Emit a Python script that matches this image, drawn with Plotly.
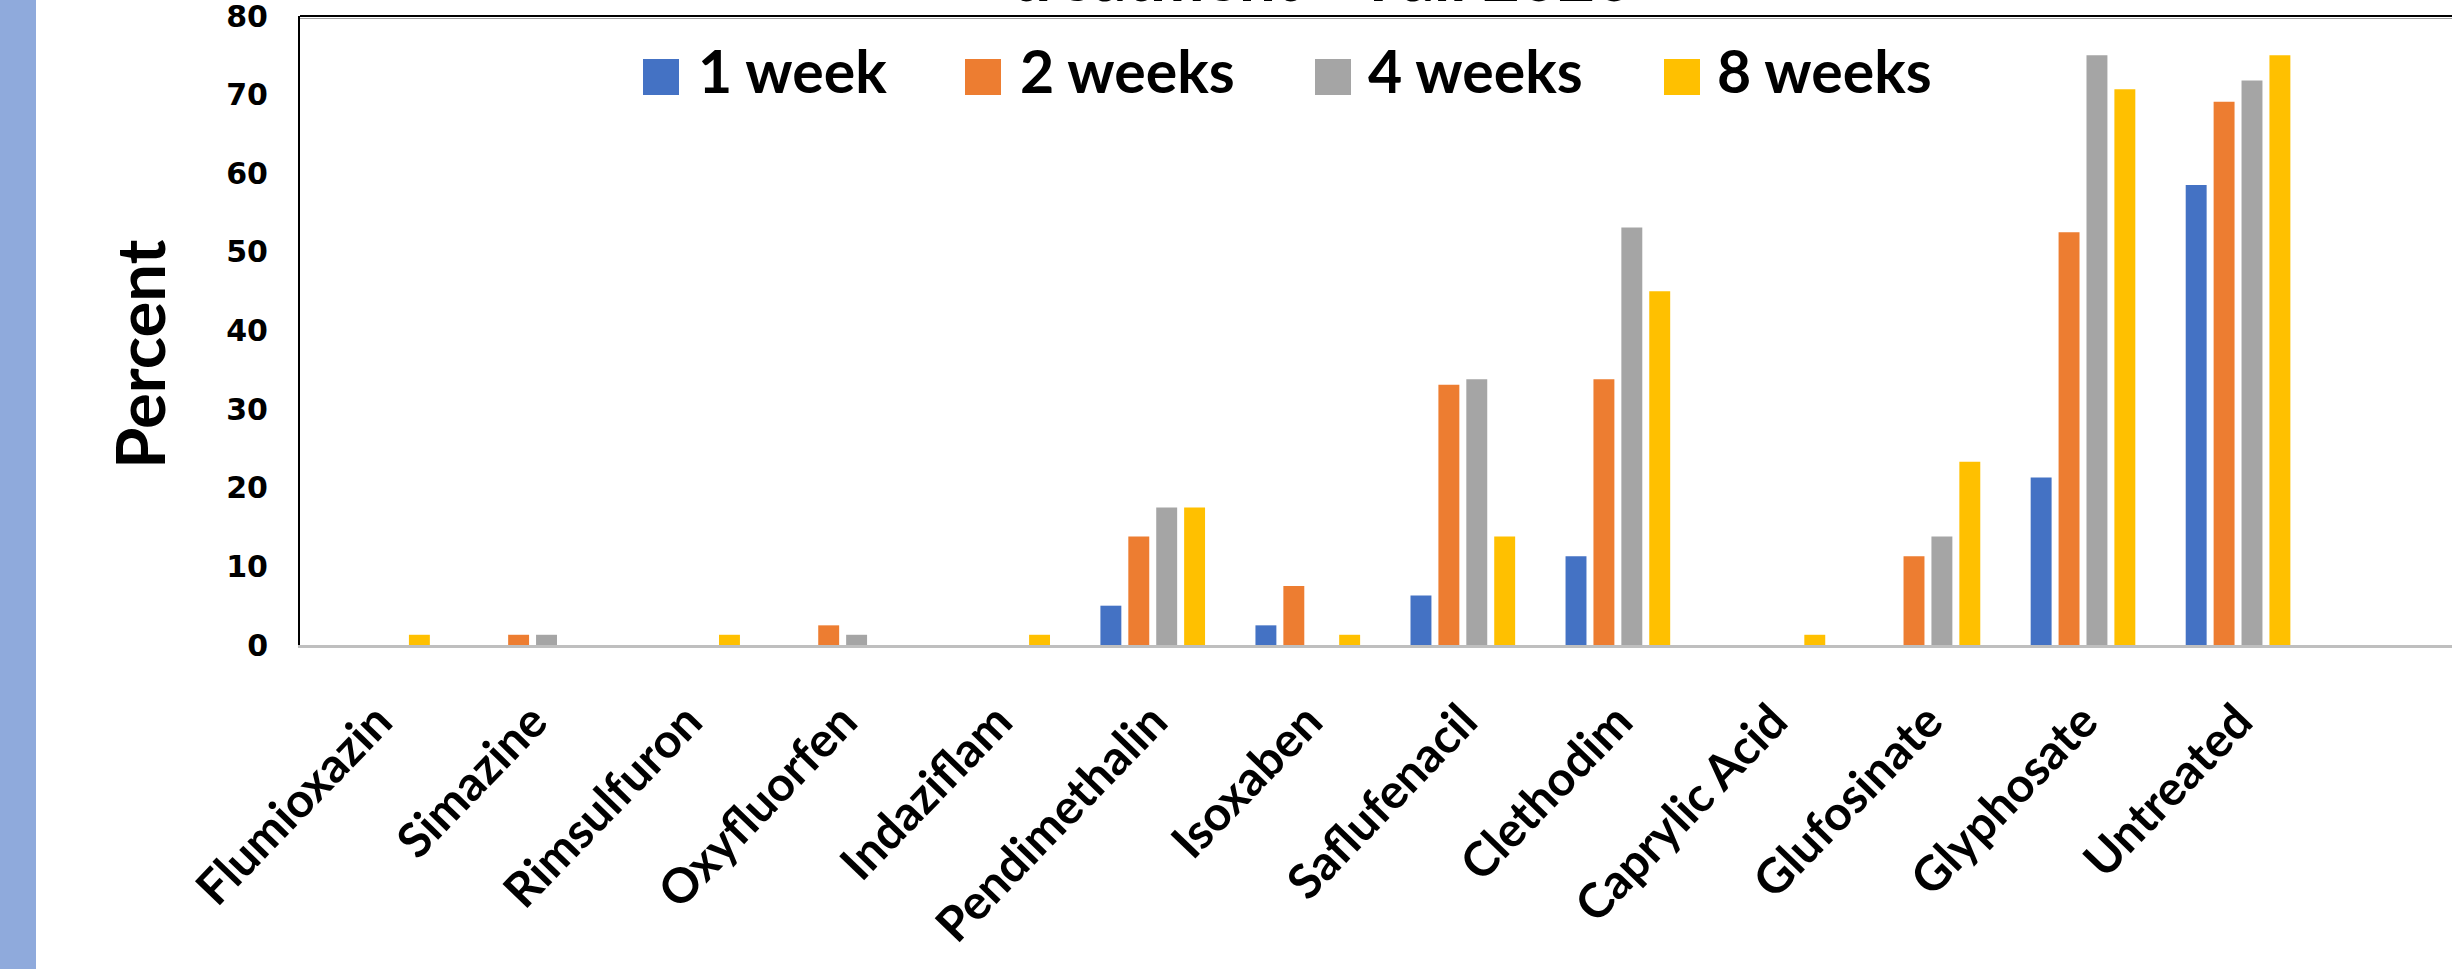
import plotly.graph_objects as go

# ---------------- data ----------------
categories = ["Flumioxazin", "Simazine", "Rimsulfuron", "Oxyfluorfen", "Indaziflam",
              "Pendimethalin", "Isoxaben", "Saflufenacil", "Clethodim", "Caprylic Acid",
              "Glufosinate", "Glyphosate", "Untreated"]
week1 = [0, 0, 0, 0, 0, 5.0, 2.5, 6.3, 11.3, 0, 0, 21.3, 58.5]
week2 = [0, 1.3, 0, 2.5, 0, 13.8, 7.5, 33.1, 33.8, 0, 11.3, 52.5, 69.1]
week4 = [0, 1.3, 0, 1.3, 0, 17.5, 0, 33.8, 53.1, 0, 13.8, 75.0, 71.8]
week8 = [1.3, 0, 1.3, 0, 1.3, 17.5, 1.3, 13.8, 45.0, 1.3, 23.3, 70.7, 75.0]
series_names = ["1 week", "2 weeks", "4 weeks", "8 weeks"]
y_ticks = [0, 10, 20, 30, 40, 50, 60, 70, 80]
title_fragment = "treatment – Fall 2020"
y_title = "Percent"

# ---------------- styles ----------------
colors = ["#4472C4", "#ED7D31", "#A5A5A5", "#FFC000"]
W, H = 2452, 969
ML, MR, MT, MB = 300, 0, 16, 324
PW, PH = W - ML - MR, H - MT - MB


def px(x):
    return (x - ML) / PW


def py(y):
    return (H - MB - y) / PH


fig = go.Figure()
for name, vals, col in zip(series_names, [week1, week2, week4, week8], colors):
    fig.add_trace(go.Bar(x=categories, y=vals, name=name, marker_color=col,
                         marker_line_width=0, showlegend=False))

fig.update_layout(
    width=W, height=H,
    margin=dict(l=ML, r=MR, t=MT, b=MB, autoexpand=False),
    paper_bgcolor="white", plot_bgcolor="white",
    barmode="group", bargap=0.28, bargroupgap=0.25,
    font=dict(family="Lato", color="black"),
)
fig.update_xaxes(
    type="category", range=[-0.5, 13.38], showgrid=False, automargin=False,
    showline=True, linecolor="#BFBFBF", linewidth=3,
    ticks="", tickangle=-46,
    tickfont=dict(family="Lato", size=48, weight="bold", color="black"),
    ticklabelstandoff=26,
)
fig.update_yaxes(
    range=[0, 80.001], tickvals=y_ticks, showgrid=False, zeroline=False, automargin=False,
    showline=True, linecolor="black", linewidth=2, ticks="",
    tickfont=dict(family="DejaVu Sans", size=30, weight="bold", color="black"),
    ticklabelstandoff=24, ticklabeloverflow="allow",
)

shapes = []
# left decorative strip
shapes.append(dict(type="rect", xref="paper", yref="paper", x0=px(0), x1=px(36),
                   y0=py(H), y1=py(0), fillcolor="#8FAADC", line_width=0, layer="below"))
# top border (black + thin grey)
shapes.append(dict(type="line", xref="paper", yref="paper", x0=0, x1=1,
                   y0=py(16), y1=py(16), line=dict(color="black", width=2)))
shapes.append(dict(type="line", xref="paper", yref="paper", x0=0, x1=1,
                   y0=py(18.5), y1=py(18.5), line=dict(color="#A0A0A0", width=1)))

annotations = []
# custom legend (square left edge, text left edge) in page pixels
legend_sq_left = [643, 965, 1315, 1664]
legend_txt_left = [698, 1020, 1368, 1717]
for name, col, x0, xt in zip(series_names, colors, legend_sq_left, legend_txt_left):
    shapes.append(dict(type="rect", xref="paper", yref="paper", x0=px(x0), x1=px(x0 + 36),
                       y0=py(95), y1=py(59), fillcolor=col, line_width=0))
    annotations.append(dict(text=name, xref="paper", yref="paper", x=px(xt - 2), y=py(108),
                            xanchor="left", yanchor="bottom", showarrow=False,
                            font=dict(family="Lato", size=59, weight="bold", color="black")))

# y axis title
annotations.append(dict(text=y_title, xref="paper", yref="paper", x=px(139), y=py(355),
                        xanchor="center", yanchor="middle", textangle=-90, showarrow=False,
                        font=dict(family="Lato", size=67, weight="bold", color="black")))
# cut-off chart title at the very top
annotations.append(dict(text=title_fragment, xref="paper", yref="paper", x=px(1635), y=py(17.5),
                        xanchor="right", yanchor="bottom", showarrow=False,
                        font=dict(family="Lato", size=65, weight="bold", color="black")))

fig.update_layout(shapes=shapes, annotations=annotations)
fig.write_html("out.html")
